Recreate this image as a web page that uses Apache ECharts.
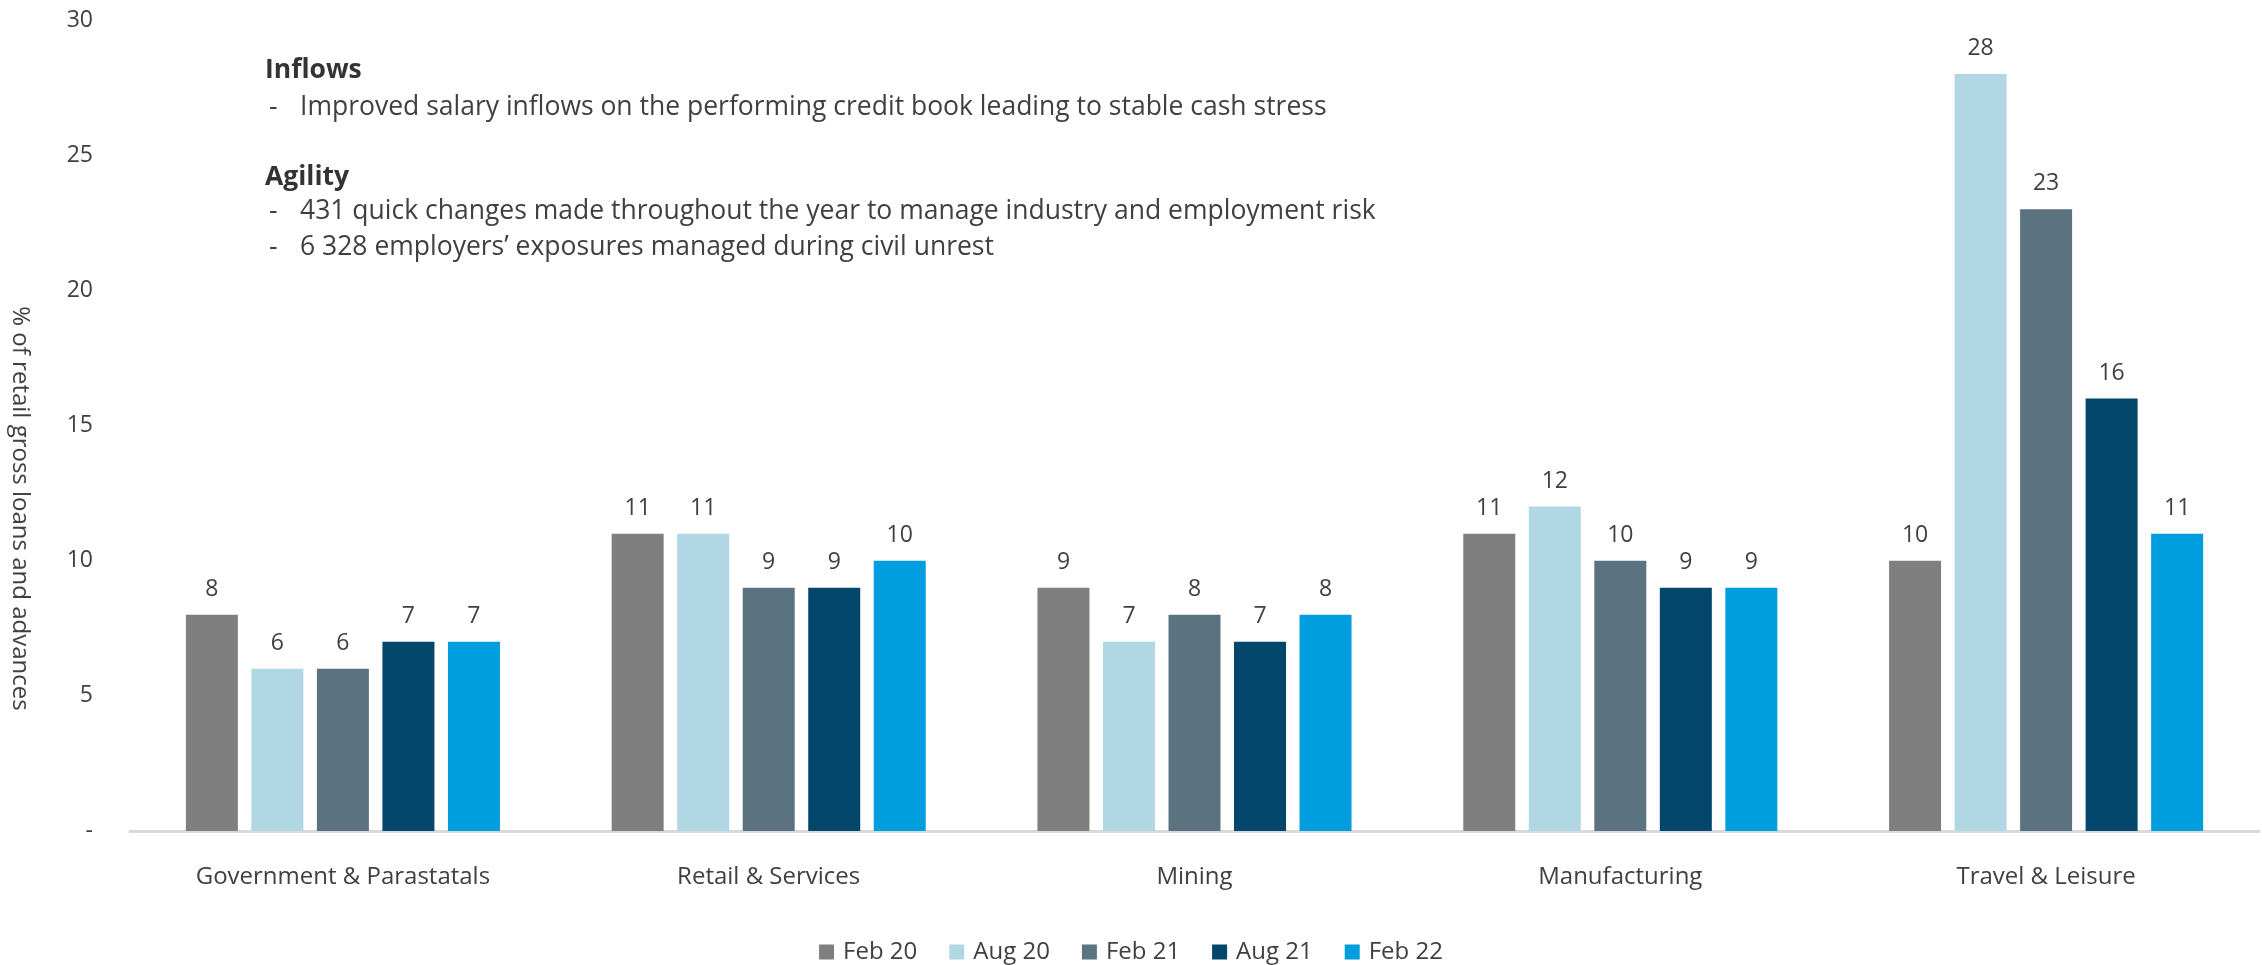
<!DOCTYPE html>
<html>
<head>
<meta charset="utf-8">
<title>Retail exposure by industry</title>
<script src="https://cdn.jsdelivr.net/npm/echarts@6/dist/echarts.min.js"></script>
<style>
  html, body { margin: 0; padding: 0; background: #ffffff; }
  #chart { width: 2262px; height: 965px; }
</style>
</head>
<body>
<div id="chart"></div>
<script>
// Industries on the category axis
const categories = ['Government & Parastatals', 'Retail & Services', 'Mining', 'Manufacturing', 'Travel & Leisure'];

// Reporting periods (one bar series each)
const periods = ['Feb 20', 'Aug 20', 'Feb 21', 'Aug 21', 'Feb 22'];

// % of retail gross loans and advances, per period, in category order
const feb20 = [8, 11, 9, 11, 10];
const aug20 = [6, 11, 7, 12, 28];
const feb21 = [6, 9, 8, 10, 23];
const aug21 = [7, 9, 7, 9, 16];
const feb22 = [7, 10, 8, 9, 11];

// Value axis ticks
const yMin = 0;
const yMax = 30;
const yStep = 5;

const seriesValues = [feb20, aug20, feb21, aug21, feb22];
const colors = ['#7f7f7f', '#b1d6e4', '#5b7380', '#02476b', '#009ddf'];

const FONT = '"Open Sans", "Noto Sans", sans-serif';
const TEXT = '#404040';

const chart = echarts.init(document.getElementById('chart'), null, { renderer: 'canvas' });

const series = periods.map((name, i) => ({
  name: name,
  type: 'bar',
  data: seriesValues[i],
  barWidth: 52,
  barGap: '26%',
  itemStyle: { color: colors[i] },
  label: {
    show: true,
    position: 'top',
    distance: 14,
    color: TEXT,
    fontFamily: FONT,
    fontSize: 23
  },
  emphasis: { disabled: true }
}));

// Commentary block in the upper-left of the plot
const noteX = 265;
const bulletX = 300;
const noteLines = [
  { y: 68,  text: 'Inflows', bold: true },
  { y: 105, text: 'Improved salary inflows on the performing credit book leading to stable cash stress' },
  { y: 175, text: 'Agility', bold: true },
  { y: 209, text: '431 quick changes made throughout the year to manage industry and employment risk' },
  { y: 245, text: '6 328 employers\u2019 exposures managed during civil unrest' }
];
const graphic = [];
noteLines.forEach(l => {
  if (l.bold) {
    graphic.push({
      type: 'text', left: noteX, top: l.y - 11,
      style: { text: l.text, fill: '#333333', font: 'bold 26.5px ' + FONT }
    });
  } else {
    graphic.push({
      type: 'text', left: noteX + 4, top: l.y - 11,
      style: { text: '-', fill: TEXT, font: '26.5px ' + FONT }
    });
    graphic.push({
      type: 'text', left: bulletX, top: l.y - 11,
      style: { text: l.text, fill: TEXT, font: '26.5px ' + FONT }
    });
  }
});

chart.setOption({
  animation: false,
  backgroundColor: '#ffffff',
  textStyle: { fontFamily: FONT, color: TEXT },
  grid: { left: 122, right: 3, top: 20, bottom: 134, containLabel: false },
  legend: {
    data: periods,
    bottom: -4,
    left: 'center',
    itemWidth: 15,
    itemHeight: 15,
    itemGap: 32,
    icon: 'rect',
    textStyle: { fontFamily: FONT, fontSize: 24, color: TEXT, padding: [0, 0, 0, 4] }
  },
  xAxis: {
    type: 'category',
    data: categories,
    axisLine: { show: true, lineStyle: { color: '#d9d9d9', width: 3 } },
    axisTick: { show: false },
    axisLabel: { color: TEXT, fontFamily: FONT, fontSize: 24, margin: 34 }
  },
  yAxis: {
    type: 'value',
    min: yMin,
    max: yMax,
    interval: yStep,
    name: '% of retail gross loans and advances',
    nameLocation: 'middle',
    nameGap: 98,
    nameRotate: -90,
    nameTextStyle: { color: TEXT, fontFamily: FONT, fontSize: 24, padding: [0, 0, 0, 166] },
    axisLine: { show: false },
    axisTick: { show: false },
    splitLine: { show: false },
    axisLabel: {
      color: TEXT, fontFamily: FONT, fontSize: 23, margin: 37,
      formatter: v => (v === 0 ? '-' : String(v))
    }
  },
  graphic: graphic,
  series: series
});
</script>
</body>
</html>
